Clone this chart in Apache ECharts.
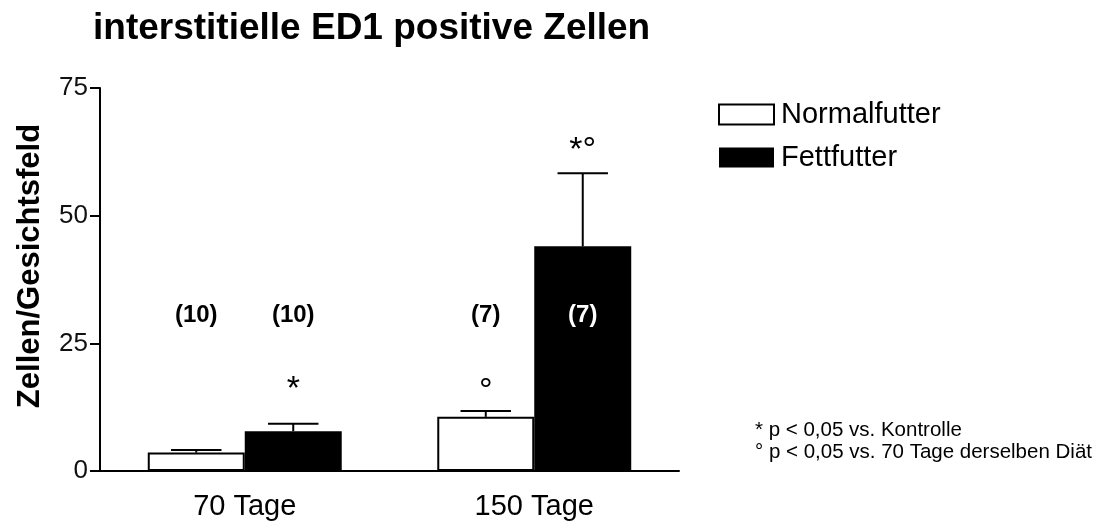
<!DOCTYPE html>
<html>
<head>
<meta charset="utf-8">
<script src="https://cdn.jsdelivr.net/npm/echarts@6/dist/echarts.min.js"></script>
<style>
html,body{margin:0;padding:0;background:#fff;}
#chart{width:1114px;height:528px;}
</style>
</head>
<body>
<div id="chart"></div>
<script>
// ---- data ----
const categories = ['70 Tage', '150 Tage'];
const seriesNames = ['Normalfutter', 'Fettfutter'];
const normalValues = [3.6, 10.6];
const normalErrors = [0.5, 1.15];
const fettValues = [7.8, 44.0];
const fettErrors = [1.45, 14.3];
const nLabelsNormal = ['(10)', '(7)'];
const nLabelsFett = ['(10)', '(7)'];
const nLabelLevel = [30.5, 30.5];
const sigNormal = ['', '°'];
const sigFett = ['*', '*°'];
const sigLevelNormal = [0, 17.0];
const sigLevelFett = [17.4, 64.2];
const yMin = 0, yMax = 75, yInterval = 25;
const titleText = 'interstitielle ED1 positive Zellen';
const yAxisTitle = 'Zellen/Gesichtsfeld';
const footnotes = ['* p < 0,05 vs. Kontrolle', '° p < 0,05 vs. 70 Tage derselben Diät'];

const FONT = "'Liberation Sans', Arial, Helvetica, sans-serif";
const CAT_GAP = 0.33;

function barWidthOf(api) {
  return api.size([1, 0])[0] * (1 - CAT_GAP) / 2;
}

function errorSeries(values, errors, side) {
  return {
    type: 'custom',
    z: 5,
    silent: true,
    data: values.map((v, i) => [i, v, v + errors[i]]),
    encode: { x: 0, y: [1, 2] },
    renderItem: function (params, api) {
      const i = api.value(0);
      const p0 = api.coord([i, api.value(1)]);
      const p1 = api.coord([i, api.value(2)]);
      const bw = barWidthOf(api);
      const x = p0[0] + side * bw / 2;
      const cw = bw * 0.26;
      const st = { stroke: '#000', lineWidth: 2 };
      return {
        type: 'group',
        children: [
          { type: 'line', shape: { x1: x, y1: p0[1], x2: x, y2: p1[1] }, style: st },
          { type: 'line', shape: { x1: x - cw, y1: p1[1], x2: x + cw, y2: p1[1] }, style: st }
        ]
      };
    }
  };
}

function textSeries(levels, texts, barValues, side, fontSize, fontWeight, yShiftEm) {
  return {
    type: 'custom',
    z: 6,
    silent: true,
    data: levels.map((l, i) => [i, l]),
    encode: { x: 0, y: 1 },
    renderItem: function (params, api) {
      const idx = params.dataIndex;
      const t = texts[idx];
      if (!t) return null;
      const i = api.value(0);
      const lv = api.value(1);
      const p = api.coord([i, lv]);
      const bw = barWidthOf(api);
      const inside = side > 0 && lv < barValues[idx];
      return {
        type: 'text',
        x: p[0] + side * bw / 2,
        y: p[1] + yShiftEm * fontSize,
        style: {
          text: t,
          fill: inside ? '#fff' : '#000',
          font: fontWeight + ' ' + fontSize + 'px ' + FONT,
          align: 'center',
          verticalAlign: 'middle'
        }
      };
    }
  };
}

const chart = echarts.init(document.getElementById('chart'));
chart.setOption({
  backgroundColor: '#fff',
  animation: false,
  title: {
    text: titleText,
    left: 88,
    top: 5,
    textStyle: { fontFamily: FONT, fontSize: 37, fontWeight: 'bold', color: '#000' }
  },
  legend: {
    data: seriesNames,
    orient: 'vertical',
    left: 713,
    top: 95,
    itemWidth: 55,
    itemHeight: 20,
    itemGap: 14,
    icon: 'rect',
    textStyle: { fontFamily: FONT, fontSize: 29, color: '#000', padding: [0, 0, 0, 2] }
  },
  grid: { left: 100, right: 435, top: 88, bottom: 57, containLabel: false },
  xAxis: {
    type: 'category',
    data: categories,
    axisLine: { lineStyle: { color: '#000', width: 2 } },
    axisTick: { show: false },
    axisLabel: { fontFamily: FONT, fontSize: 29, color: '#000', margin: 21 },
    splitLine: { show: false }
  },
  yAxis: {
    type: 'value',
    min: yMin,
    max: yMax,
    interval: yInterval,
    axisLine: { show: true, lineStyle: { color: '#000', width: 2 } },
    axisTick: { show: true, length: 10, lineStyle: { color: '#000', width: 2 } },
    axisLabel: { fontFamily: FONT, fontSize: 26, color: '#111', margin: 12 },
    splitLine: { show: false }
  },
  graphic: [
    {
      type: 'text',
      x: 30,
      y: 266,
      rotation: Math.PI / 2,
      style: {
        text: yAxisTitle,
        font: 'bold 31px ' + FONT,
        fill: '#000',
        align: 'center',
        verticalAlign: 'middle'
      }
    },
    {
      type: 'text',
      x: 755,
      y: 419,
      style: {
        text: footnotes.join('\n'),
        font: '20.5px ' + FONT,
        lineHeight: 22,
        fill: '#000',
        align: 'left',
        verticalAlign: 'top'
      }
    }
  ],
  series: [
    {
      name: seriesNames[0],
      type: 'bar',
      data: normalValues,
      barGap: '0%',
      barCategoryGap: '33%',
      itemStyle: { color: '#fff', borderColor: '#000', borderWidth: 2 }
    },
    {
      name: seriesNames[1],
      type: 'bar',
      data: fettValues,
      barGap: '0%',
      barCategoryGap: '33%',
      itemStyle: { color: '#000', borderColor: '#000', borderWidth: 0 }
    },
    errorSeries(normalValues, normalErrors, -1),
    errorSeries(fettValues, fettErrors, 1),
    textSeries(nLabelLevel, nLabelsNormal, normalValues, -1, 24, 'bold', 0),
    textSeries(nLabelLevel, nLabelsFett, fettValues, 1, 24, 'bold', 0),
    textSeries(sigLevelNormal, sigNormal, normalValues, -1, 34, 'normal', 0.22),
    textSeries(sigLevelFett, sigFett, fettValues, 1, 34, 'normal', 0.22)
  ]
});
</script>
</body>
</html>
